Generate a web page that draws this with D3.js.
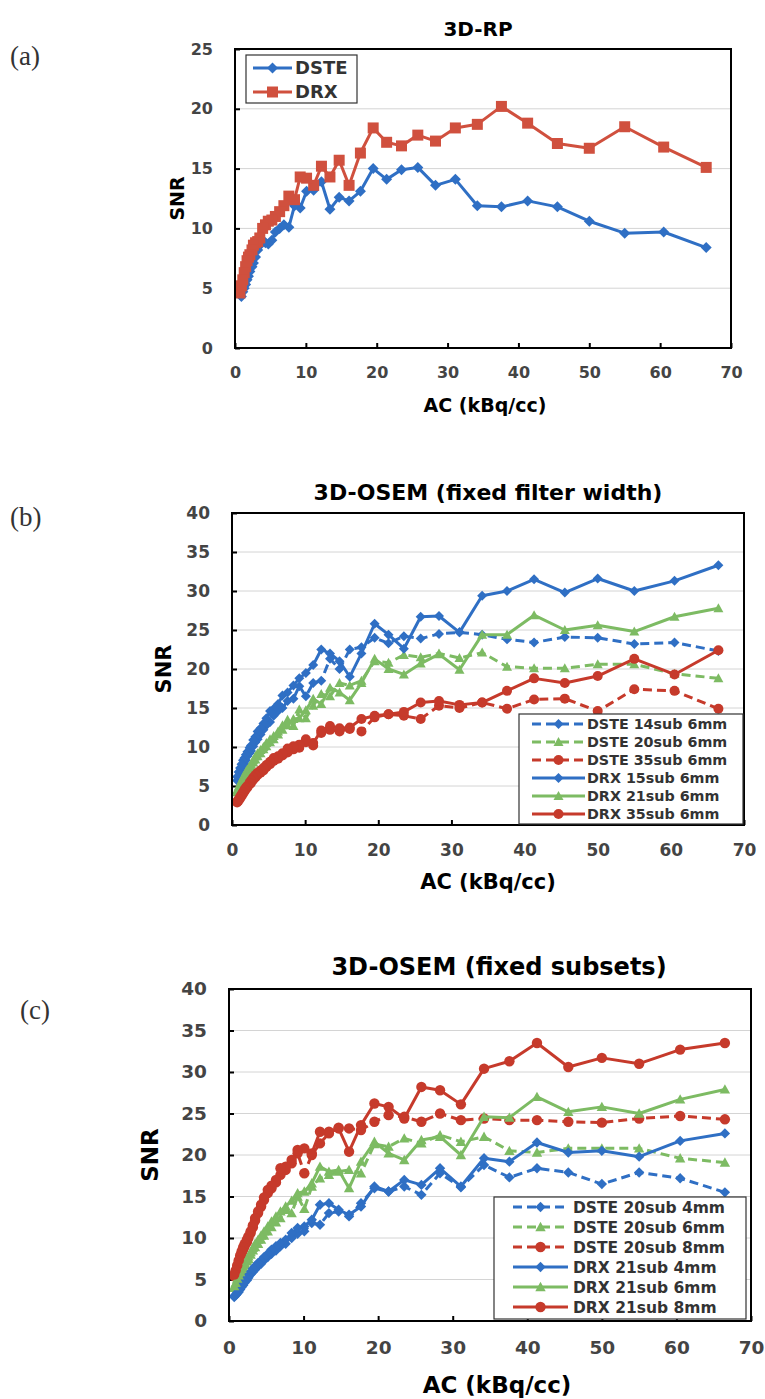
<!DOCTYPE html>
<html>
<head>
<meta charset="utf-8">
<script src="https://cdn.jsdelivr.net/npm/d3@7"></script>
<style>
  body { margin: 0; background: #fff; }
  text { font-family: "DejaVu Sans", Verdana, sans-serif; }
</style>
</head>
<body>
<script>
// activity concentration (kBq/cc), shared by every series
const AC = [66.5, 60.5, 55.0, 50.0, 45.5, 41.3, 37.6, 34.2, 31.1, 28.3, 25.8, 23.5, 21.4, 19.5, 17.7,
            16.1, 14.7, 13.4, 12.2, 11.1, 10.1, 9.2, 8.4, 7.6, 6.9, 6.3, 5.7, 5.2, 4.7, 4.3,
            3.9, 3.5, 3.2, 2.9, 2.6, 2.4, 2.1, 1.9, 1.7, 1.5, 1.3, 1.1, 0.9, 0.7]

const xTicks = [0, 10, 20, 30, 40, 50, 60, 70]
const yTicksA = [0, 5, 10, 15, 20, 25]
const yTicksBC = [0, 5, 10, 15, 20, 25, 30, 35, 40]

// (a) 3D-RP
const rpDSTE = [8.4, 9.7, 9.6, 10.6, 11.8, 12.3, 11.8, 11.9, 14.1, 13.6, 15.1, 14.9, 14.1, 15.0, 13.1,
                12.3, 12.6, 11.6, 13.9, 13.2, 13.1, 11.7, 11.9, 10.1, 10.3, 10.0, 9.7, 9.0, 8.7, 8.8,
                9.0, 8.6, 8.2, 7.6, 7.1, 6.8, 6.4, 6.0, 5.7, 5.3, 5.0, 4.7, 4.3, 4.5]
const rpDRX = [15.1, 16.8, 18.5, 16.7, 17.1, 18.8, 20.2, 18.7, 18.4, 17.3, 17.8, 16.9, 17.2, 18.4, 16.3,
               13.6, 15.7, 14.3, 15.2, 13.6, 14.2, 14.3, 12.4, 12.7, 11.9, 11.4, 11.0, 10.7, 10.6, 10.3,
               10.0, 9.2, 8.9, 8.8, 8.6, 8.2, 7.8, 7.6, 7.3, 6.8, 6.3, 5.7, 5.2, 4.6]

// (b) 3D-OSEM, fixed filter width
const fwDSTE14 = [22.3, 23.4, 23.2, 24.0, 24.1, 23.4, 23.8, 24.4, 24.7, 24.5, 23.9, 24.2, 23.3, 24.0, 22.8,
                  22.5, 20.0, 21.3, 18.5, 18.2, 16.5, 17.8, 16.2, 15.9, 15.0, 14.6, 14.0, 13.2, 12.8, 12.2,
                  11.6, 11.0, 10.6, 10.1, 9.5, 9.2, 8.8, 8.3, 7.9, 7.6, 7.1, 6.7, 6.2, 5.7]
const fwDSTE20 = [18.8, 19.4, 20.6, 20.6, 20.1, 20.1, 20.3, 22.1, 21.4, 22.0, 21.5, 21.8, 20.8, 21.0, 18.5,
                  17.9, 18.2, 16.5, 16.8, 15.3, 13.7, 14.8, 12.7, 13.5, 12.2, 11.6, 11.0, 10.6, 10.1, 9.7,
                  9.2, 8.8, 8.4, 8.0, 7.5, 7.2, 6.8, 6.5, 6.1, 5.8, 5.4, 5.0, 4.6, 4.2]
const fwDSTE35 = [14.9, 17.2, 17.4, 14.6, 16.2, 16.1, 14.9, 15.7, 15.0, 15.3, 13.6, 14.0, 14.2, 13.8, 12.0,
                  12.3, 12.0, 12.2, 11.8, 10.2, 10.6, 9.9, 9.7, 9.3, 8.9, 8.5, 8.2, 7.8, 7.4, 7.0,
                  6.7, 6.4, 6.1, 5.8, 5.4, 5.2, 4.8, 4.6, 4.3, 4.0, 3.7, 3.4, 3.1, 2.9]
const fwDRX15 = [33.3, 31.3, 30.0, 31.6, 29.8, 31.5, 30.0, 29.4, 24.7, 26.8, 26.7, 22.6, 24.4, 25.8, 22.0,
                 19.0, 21.0, 22.0, 22.5, 20.5, 19.5, 18.8, 17.9, 17.0, 16.6, 15.5, 14.9, 14.6, 13.7, 13.0,
                 12.4, 12.0, 11.3, 10.9, 10.2, 9.9, 9.4, 9.0, 8.6, 8.3, 7.8, 7.3, 6.8, 6.2]
const fwDRX21 = [27.8, 26.7, 24.8, 25.6, 25.0, 26.9, 24.4, 24.4, 19.9, 21.9, 20.7, 19.3, 20.0, 21.3, 18.2,
                 16.0, 17.0, 17.6, 15.5, 16.2, 14.7, 13.7, 13.6, 12.8, 12.8, 12.0, 11.4, 11.0, 10.5, 10.0,
                 9.6, 9.2, 8.8, 8.3, 7.8, 7.5, 7.1, 6.8, 6.4, 6.1, 5.7, 5.3, 4.9, 4.5]
const fwDRX35 = [22.4, 19.3, 21.3, 19.1, 18.2, 18.8, 17.2, 15.7, 15.4, 15.9, 15.7, 14.5, 14.2, 14.0, 13.6,
                 12.5, 12.4, 12.7, 12.1, 10.5, 11.0, 10.3, 10.1, 9.8, 9.2, 8.8, 8.6, 8.1, 7.7, 7.3,
                 7.0, 6.7, 6.4, 6.1, 5.7, 5.4, 5.0, 4.8, 4.5, 4.2, 3.9, 3.6, 3.3, 3.0]

// (c) 3D-OSEM, fixed subsets
const fsDSTE4 = [15.5, 17.2, 17.9, 16.5, 17.9, 18.4, 17.3, 18.8, 16.1, 17.8, 15.2, 16.2, 15.6, 16.0, 14.2,
                 12.6, 13.2, 13.0, 11.6, 11.8, 10.8, 10.5, 10.0, 9.3, 9.0, 8.5, 8.1, 7.7, 7.3, 6.9,
                 6.6, 6.2, 5.9, 5.6, 5.2, 4.9, 4.6, 4.3, 4.1, 3.8, 3.5, 3.3, 3.1, 2.9]
const fsDSTE6 = [19.1, 19.6, 20.8, 20.8, 20.8, 20.3, 20.5, 22.2, 21.6, 22.4, 21.4, 22.0, 21.0, 21.3, 17.8,
                 18.2, 18.0, 17.6, 17.2, 16.2, 13.5, 15.0, 13.0, 13.4, 12.4, 11.9, 11.3, 10.8, 10.3, 9.8,
                 9.3, 8.9, 8.5, 8.0, 7.5, 7.2, 6.8, 6.5, 6.1, 5.7, 5.3, 4.9, 4.5, 4.0]
const fsDSTE8 = [24.3, 24.7, 24.4, 23.9, 24.0, 24.2, 24.2, 24.4, 24.2, 25.0, 24.0, 24.6, 24.8, 24.0, 23.0,
                 23.2, 23.3, 22.6, 21.4, 20.0, 17.8, 20.2, 19.0, 18.2, 17.6, 16.7, 16.0, 15.4, 14.6, 13.8,
                 13.0, 12.1, 11.3, 10.6, 10.0, 9.5, 9.0, 8.6, 8.1, 7.6, 7.0, 6.5, 5.9, 5.4]
const fsDRX4 = [22.6, 21.7, 19.8, 20.5, 20.3, 21.5, 19.2, 19.6, 16.2, 18.4, 16.4, 17.0, 15.6, 16.2, 13.8,
                12.8, 13.4, 14.2, 14.0, 12.2, 11.4, 11.2, 10.6, 9.8, 9.4, 9.0, 8.6, 8.1, 7.7, 7.3,
                7.0, 6.6, 6.3, 5.9, 5.5, 5.2, 4.9, 4.6, 4.3, 4.0, 3.7, 3.4, 3.2, 3.0]
const fsDRX6 = [27.9, 26.7, 25.0, 25.8, 25.2, 27.0, 24.5, 24.6, 20.0, 22.2, 21.8, 19.4, 20.2, 21.6, 19.2,
                16.0, 18.2, 18.0, 18.6, 16.6, 15.6, 15.4, 14.5, 13.8, 13.2, 12.6, 12.0, 11.4, 10.8, 10.3,
                9.8, 9.3, 8.8, 8.3, 7.8, 7.4, 7.0, 6.7, 6.3, 5.9, 5.5, 5.1, 4.6, 4.2]
const fsDRX8 = [33.5, 32.7, 31.0, 31.7, 30.6, 33.5, 31.3, 30.4, 26.1, 27.8, 28.2, 24.4, 25.8, 26.2, 23.6,
                20.4, 23.2, 22.8, 22.8, 20.2, 20.8, 20.6, 19.4, 18.6, 18.4, 17.0, 16.3, 15.8, 14.9, 14.0,
                13.2, 12.4, 11.5, 10.8, 10.2, 9.8, 9.3, 8.9, 8.4, 7.9, 7.3, 6.7, 6.1, 5.6]

const BLUE = "#2f6fc4", RED = "#c63a2b", RED_A = "#d0503e", GREEN = "#7dbb63"

const svg = d3.select("body").append("svg")
    .attr("width", 765)
    .attr("height", 1399)

svg.append("rect").attr("width", 765).attr("height", 1399).attr("fill", "#fff")

/**
 * Marker shapes, r is the half size of the marker.
 */
function markerPath(shape, r) {
    if (shape === "diamond") return `M0,${-r}L${r},0L0,${r}L${-r},0Z`
    if (shape === "square") return `M${-r},${-r}H${r}V${r}H${-r}Z`
    if (shape === "triangle") return `M0,${-r}L${r},${r * 0.8}L${-r},${r * 0.8}Z`
    return d3.arc()({ innerRadius: 0, outerRadius: r, startAngle: 0, endAngle: 2 * Math.PI })
}

function drawPanel(p) {
    const x = d3.scaleLinear().domain([0, 70]).range([p.left, p.right])
    const y = d3.scaleLinear().domain([0, p.ymax]).range([p.bottom, p.top])
    const g = svg.append("g")

    // horizontal gridlines
    g.selectAll(".grid")
        .data(p.yTicks.filter(t => t > 0 && t < p.ymax))
        .join("line")
        .attr("class", "grid")
        .attr("x1", p.left).attr("x2", p.right)
        .attr("y1", d => y(d)).attr("y2", d => y(d))
        .attr("stroke", "#d4d4d4")
        .attr("stroke-width", 1)

    // axes, ticks pointing into the plot
    const xAxis = g.append("g")
        .attr("transform", `translate(0,${p.bottom})`)
        .call(d3.axisBottom(x).tickValues(xTicks).tickSizeInner(-5).tickSizeOuter(0).tickPadding(p.xPad))
    const yAxis = g.append("g")
        .attr("transform", `translate(${p.left},0)`)
        .call(d3.axisLeft(y).tickValues(p.yTicks).tickSizeInner(-5).tickSizeOuter(0).tickPadding(p.yPad))

    for (const ax of [xAxis, yAxis]) {
        ax.select(".domain").remove()
        ax.selectAll(".tick line").attr("stroke", "#000").attr("stroke-width", 2)
        ax.selectAll(".tick text")
            .attr("fill", "#444")
            .attr("font-weight", "bold")
            .attr("font-size", p.tickFont)
            .style("font-family", "DejaVu Sans")
    }

    // series: lines, then markers
    const line = d3.line().x(d => x(d[0])).y(d => y(d[1]))
    p.series.forEach(s => {
        const pts = d3.zip(AC, s.values)
        g.append("path")
            .datum(pts)
            .attr("d", line)
            .attr("fill", "none")
            .attr("stroke", s.color)
            .attr("stroke-width", p.lineWidth)
            .attr("stroke-linejoin", "round")
            .attr("stroke-dasharray", s.dashed ? "9,5" : null)
        g.selectAll(null)
            .data(pts)
            .join("path")
            .attr("transform", d => `translate(${x(d[0])},${y(d[1])})`)
            .attr("d", markerPath(s.shape, p.markerR))
            .attr("fill", s.color)
    })

    // plot border
    g.append("rect")
        .attr("x", p.left).attr("y", p.top)
        .attr("width", p.right - p.left).attr("height", p.bottom - p.top)
        .attr("fill", "none")
        .attr("stroke", "#000")
        .attr("stroke-width", 2)

    // legend
    const L = p.legend
    g.append("rect")
        .attr("x", L.x0).attr("y", L.y0)
        .attr("width", L.x1 - L.x0).attr("height", L.y1 - L.y0)
        .attr("fill", "#fff")
        .attr("stroke", "#333")
        .attr("stroke-width", 1.2)
    const items = g.selectAll(".legend_item")
        .data(p.series)
        .join("g")
        .attr("class", "legend_item")
        .attr("transform", (d, i) => `translate(0,${L.row0 + i * L.step})`)
    items.append("line")
        .attr("x1", L.s0).attr("x2", L.s1)
        .attr("stroke", d => d.color)
        .attr("stroke-width", p.lineWidth)
        .attr("stroke-dasharray", d => d.dashed ? "9,5" : null)
    items.append("path")
        .attr("transform", `translate(${(L.s0 + L.s1) / 2},0)`)
        .attr("d", d => markerPath(d.shape, p.markerR))
        .attr("fill", d => d.color)
    items.append("text")
        .attr("x", L.tx)
        .attr("dy", "0.36em")
        .attr("font-size", L.font)
        .attr("font-weight", "bold")
        .attr("fill", "#333")
        .text(d => d.name)

    // title and axis labels
    g.append("text")
        .attr("x", p.titleX).attr("y", p.titleY)
        .attr("text-anchor", "middle")
        .attr("font-size", p.titleFont)
        .attr("font-weight", "bold")
        .text(p.title)
    g.append("text")
        .attr("x", p.xLabelX).attr("y", p.xLabelY)
        .attr("text-anchor", "middle")
        .attr("font-size", p.labelFont)
        .attr("font-weight", "bold")
        .text("AC (kBq/cc)")
    g.append("text")
        .attr("transform", `translate(${p.yLabelX},${(p.top + p.bottom) / 2}) rotate(-90)`)
        .attr("text-anchor", "middle")
        .attr("dy", "0.36em")
        .attr("font-size", p.labelFont)
        .attr("font-weight", "bold")
        .text("SNR")

    // panel letter
    svg.append("text")
        .attr("x", p.letterX).attr("y", p.letterY)
        .attr("font-size", 27)
        .style("font-family", "Liberation Serif, serif")
        .attr("fill", "#333")
        .text(p.letter)
}

drawPanel({
    letter: "(a)", letterX: 10, letterY: 65,
    left: 235, right: 731, top: 49, bottom: 348, ymax: 25, yTicks: yTicksA,
    xPad: 19, yPad: 22, tickFont: 16, lineWidth: 3, markerR: 5.5,
    title: "3D-RP", titleX: 478, titleY: 36, titleFont: 20,
    xLabelX: 485, xLabelY: 412, yLabelX: 177, labelFont: 19,
    series: [
        { name: "DSTE", values: rpDSTE, color: BLUE, shape: "diamond", dashed: false },
        { name: "DRX", values: rpDRX, color: RED_A, shape: "square", dashed: false },
    ],
    legend: { x0: 246, x1: 357, y0: 55, y1: 103, row0: 68, step: 24, s0: 253, s1: 292, tx: 295, font: 18 },
})

drawPanel({
    letter: "(b)", letterX: 10, letterY: 526,
    left: 232, right: 744, top: 513, bottom: 825, ymax: 40, yTicks: yTicksBC,
    xPad: 19, yPad: 22, tickFont: 17, lineWidth: 3, markerR: 5,
    title: "3D-OSEM (fixed filter width)", titleX: 488, titleY: 500, titleFont: 22,
    xLabelX: 488, xLabelY: 889, yLabelX: 163, labelFont: 21,
    series: [
        { name: "DSTE 14sub 6mm", values: fwDSTE14, color: BLUE, shape: "diamond", dashed: true },
        { name: "DSTE 20sub 6mm", values: fwDSTE20, color: GREEN, shape: "triangle", dashed: true },
        { name: "DSTE 35sub 6mm", values: fwDSTE35, color: RED, shape: "circle", dashed: true },
        { name: "DRX 15sub 6mm", values: fwDRX15, color: BLUE, shape: "diamond", dashed: false },
        { name: "DRX 21sub 6mm", values: fwDRX21, color: GREEN, shape: "triangle", dashed: false },
        { name: "DRX 35sub 6mm", values: fwDRX35, color: RED, shape: "circle", dashed: false },
    ],
    legend: { x0: 519, x1: 743, y0: 714, y1: 824, row0: 724, step: 18, s0: 532, s1: 585, tx: 587, font: 14.3 },
})

drawPanel({
    letter: "(c)", letterX: 20, letterY: 1019,
    left: 229, right: 751, top: 989, bottom: 1321, ymax: 40, yTicks: yTicksBC,
    xPad: 20, yPad: 22, tickFont: 18.5, lineWidth: 3, markerR: 5.2,
    title: "3D-OSEM (fixed subsets)", titleX: 499, titleY: 975, titleFont: 24,
    xLabelX: 497, xLabelY: 1393, yLabelX: 150, labelFont: 23,
    series: [
        { name: "DSTE 20sub 4mm", values: fsDSTE4, color: BLUE, shape: "diamond", dashed: true },
        { name: "DSTE 20sub 6mm", values: fsDSTE6, color: GREEN, shape: "triangle", dashed: true },
        { name: "DSTE 20sub 8mm", values: fsDSTE8, color: RED, shape: "circle", dashed: true },
        { name: "DRX 21sub 4mm", values: fsDRX4, color: BLUE, shape: "diamond", dashed: false },
        { name: "DRX 21sub 6mm", values: fsDRX6, color: GREEN, shape: "triangle", dashed: false },
        { name: "DRX 21sub 8mm", values: fsDRX8, color: RED, shape: "circle", dashed: false },
    ],
    legend: { x0: 494, x1: 746, y0: 1197, y1: 1319, row0: 1207, step: 20, s0: 513, s1: 568, tx: 573, font: 15.5 },
})
</script>
</body>
</html>
